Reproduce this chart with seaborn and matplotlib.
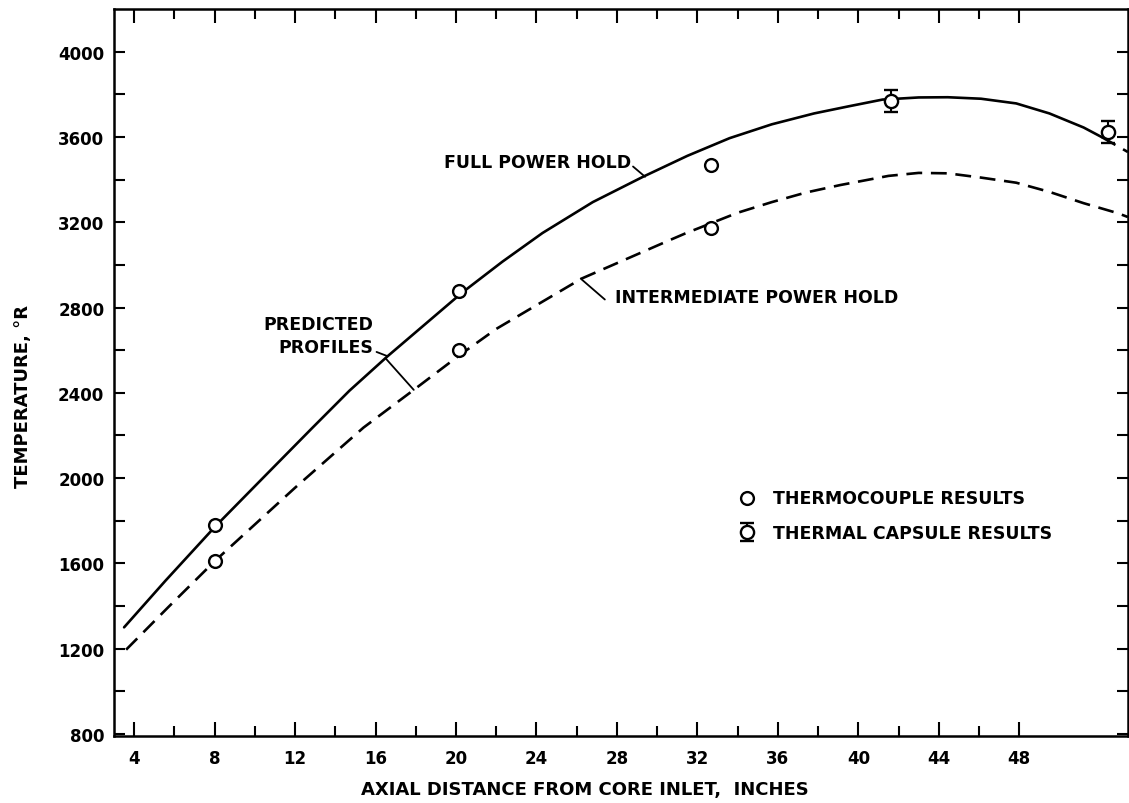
import seaborn as sns
import matplotlib.pyplot as plt
from matplotlib.ticker import FixedLocator

# predicted profile, full power hold (solid curve)
full_x = [3.5, 5.55, 8, 10.5, 12.85, 14.7, 16.6, 18.5, 20.3, 22.3, 24.3, 26.8, 29.3, 31.5,
          33.6, 35.7, 37.8, 39.5, 41.2, 43.0, 44.45, 46.1, 47.85, 49.5, 51.2, 52.1]
full_t = [1300, 1518, 1770, 2010, 2235, 2410, 2572, 2725, 2870, 3015, 3150, 3295, 3414, 3512,
          3595, 3660, 3711, 3744, 3776, 3786, 3787, 3780, 3758, 3711, 3645, 3600]
# short dashed end of the full power curve past the last capsule
full_tail_x = [52.1, 53.4]
full_tail_t = [3600, 3530]

# predicted profile, intermediate power hold (dashed curve)
inter_x = [3.6, 5.7, 8, 12, 15.4, 17.9, 20.15, 22.0, 26.24, 30.56, 31.4, 34.0, 35.7, 37.4,
           39.1, 40.05, 41.5, 43.0, 44.45, 46.1, 47.85, 49.5, 51.2, 52.9, 53.4]
inter_t = [1195, 1395, 1610, 1955, 2237, 2414, 2575, 2700, 2936, 3114, 3148, 3245, 3295, 3340,
           3375, 3392, 3418, 3432, 3430, 3410, 3386, 3343, 3290, 3243, 3225]

# measurements
tc_x = [8, 8, 20.15, 20.15, 32.7, 32.7]
tc_t = [1780, 1610, 2880, 2600, 3470, 3175]
cap_x = [41.6, 52.4]
cap_t = [3770, 3622]
cap_err = [52, 52]

x_major = [4, 8, 12, 16, 20, 24, 28, 32, 36, 40, 44, 48]
x_minor = [6, 10, 14, 18, 22, 26, 30, 34, 38, 42, 46]
y_major = [800, 1200, 1600, 2000, 2400, 2800, 3200, 3600, 4000]
y_minor = [1000, 1400, 1800, 2200, 2600, 3000, 3400, 3800]

sns.set_style("ticks")
plt.rcParams["font.family"] = ["DejaVu Sans"]
plt.rcParams["font.weight"] = "bold"
for k in ["text.color", "axes.labelcolor", "xtick.color", "ytick.color", "axes.edgecolor"]:
    plt.rcParams[k] = "black"

fig = plt.figure(figsize=(11.29, 8.04), dpi=100)
ax = fig.add_axes([0.101, 0.0833, 0.898, 0.904])

dash = (0, (6, 3.3))
sns.lineplot(x=full_x, y=full_t, color="black", lw=1.9, estimator=None, sort=False, ax=ax)
sns.lineplot(x=full_tail_x, y=full_tail_t, color="black", lw=1.9, linestyle=dash,
             estimator=None, sort=False, ax=ax)
sns.lineplot(x=inter_x, y=inter_t, color="black", lw=1.9, linestyle=dash,
             estimator=None, sort=False, ax=ax)

sns.scatterplot(x=tc_x, y=tc_t, marker="o", s=85, color="white", edgecolor="black",
                linewidth=1.7, zorder=4, label="THERMOCOUPLE RESULTS", ax=ax)
ax.errorbar(cap_x, cap_t, yerr=cap_err, fmt="o", ms=9.5, mfc="white", mec="black", mew=1.7,
            ecolor="black", elinewidth=1.5, capsize=5, capthick=1.5, zorder=4,
            label="THERMAL CAPSULE RESULTS")

ax.set_xlim(3.0, 53.4)
ax.set_ylim(790, 4200)
ax.xaxis.set_major_locator(FixedLocator(x_major))
ax.xaxis.set_minor_locator(FixedLocator(x_minor))
ax.yaxis.set_major_locator(FixedLocator(y_major))
ax.yaxis.set_minor_locator(FixedLocator(y_minor))
ax.tick_params(which="both", direction="in", top=True, right=True, width=1.5, labelsize=12)
ax.tick_params(axis="x", which="major", length=10, pad=9)
ax.tick_params(axis="x", which="minor", length=7)
ax.tick_params(axis="y", which="both", length=8, pad=7)
for s in ax.spines.values():
    s.set_linewidth(1.8)

ax.set_xlabel("AXIAL DISTANCE FROM CORE INLET,  INCHES", fontsize=13, fontweight="bold")
ax.set_ylabel("TEMPERATURE, °R", fontsize=13, fontweight="bold")
ax.xaxis.set_label_coords(0.4645, -0.0605)
ax.yaxis.set_label_coords(-0.081, 0.468)

# curve labels and leaders
txt = dict(fontsize=12.5, fontweight="bold", va="center")
lead = dict(arrowstyle="-", lw=1.3, color="black", shrinkA=0, shrinkB=0)
ax.text(28.7, 3485, "FULL POWER HOLD", ha="right", **txt)
ax.annotate("", xy=(29.4, 3414), xytext=(28.8, 3462), arrowprops=lead)
ax.text(27.9, 2852, "INTERMEDIATE POWER HOLD", ha="left", **txt)
ax.annotate("", xy=(26.2, 2936), xytext=(27.4, 2838), arrowprops=lead)
ax.text(15.9, 2670, "PREDICTED\nPROFILES", ha="right", multialignment="right",
        linespacing=1.35, **txt)
ax.annotate("", xy=(16.6, 2572), xytext=(16.05, 2592), arrowprops=lead)
ax.annotate("", xy=(17.9, 2414), xytext=(16.5, 2562), arrowprops=lead)

h, l = ax.get_legend_handles_labels()
ax.legend(h, l, loc="upper left", bbox_to_anchor=(0.6, 0.362), frameon=False,
          handlelength=1.0, handletextpad=1.0, labelspacing=1.0, fontsize=12.5)

fig.savefig("out.png", dpi=100)
